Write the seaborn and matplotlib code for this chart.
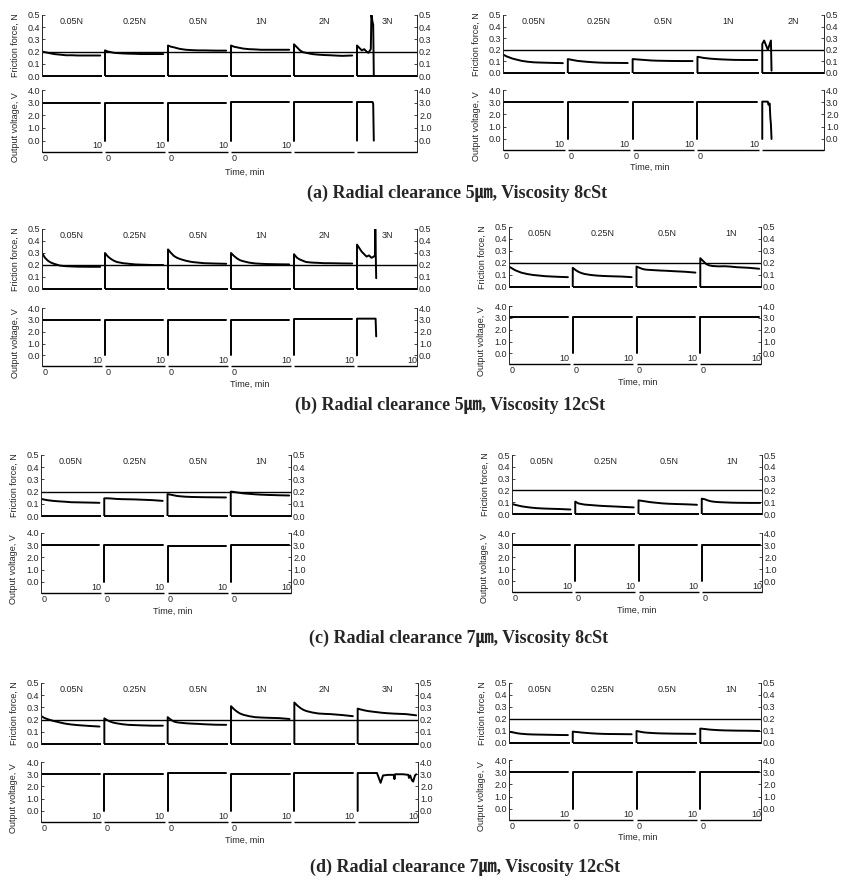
import numpy as np
import pandas as pd
import matplotlib
matplotlib.use("Agg")
import matplotlib.pyplot as plt
import seaborn as sns

# ---------------- data ----------------
T = [0, 0.5, 1, 1.5, 2, 3, 4, 5, 6, 8, 9.7]          # sampling times, min
V_T = [0, 9.7]
LOADS = ["0.05N", "0.25N", "0.5N", "1N", "2N", "3N"]

# (a) Radial clearance 5um, viscosity 8cSt -- left test
A_L_FRICTION = [
    [0.20, 0.195, 0.19, 0.185, 0.18, 0.175, 0.17, 0.17, 0.168, 0.168, 0.168],
    [0.21, 0.20, 0.195, 0.19, 0.188, 0.185, 0.183, 0.182, 0.18, 0.18, 0.18],
    [0.25, 0.24, 0.235, 0.228, 0.222, 0.215, 0.212, 0.21, 0.21, 0.208, 0.208],
    [0.25, 0.24, 0.235, 0.23, 0.225, 0.22, 0.218, 0.215, 0.215, 0.215, 0.215],
    [0.26, 0.235, 0.21, 0.195, 0.19, 0.18, 0.175, 0.172, 0.17, 0.165, 0.168],
]
A_L_VOLT = [3.0, 3.0, 3.0, 3.02, 3.06]
A_L_3N_T = [0, 0.4, 0.8, 1.2, 1.6, 1.9, 2.3, 2.4, 2.6, 2.7, 2.8]
A_L_3N_F = [0.25, 0.23, 0.21, 0.22, 0.20, 0.19, 0.22, 0.50, 0.44, 0.42, 0.0]
A_L_3N_VT = [0, 2.6, 2.7, 2.8]
A_L_3N_V = [3.05, 3.05, 2.9, 0.0]

# (a) right test
A_R_FRICTION = [
    [0.16, 0.145, 0.135, 0.125, 0.118, 0.105, 0.097, 0.092, 0.09, 0.087, 0.085],
    [0.12, 0.115, 0.11, 0.105, 0.102, 0.097, 0.093, 0.09, 0.088, 0.087, 0.086],
    [0.12, 0.118, 0.116, 0.114, 0.112, 0.108, 0.106, 0.105, 0.104, 0.103, 0.103],
    [0.14, 0.135, 0.13, 0.127, 0.124, 0.12, 0.117, 0.115, 0.113, 0.112, 0.112],
]
A_R_VOLT = [3.0, 3.02, 3.02, 3.02]
A_R_2N_T = [0, 0.3, 0.9, 1.4, 1.5]
A_R_2N_F = [0.25, 0.28, 0.20, 0.28, 0.02]
A_R_2N_VT = [0, 0.9, 1.0, 1.2, 1.3, 1.4, 1.5]
A_R_2N_V = [3.05, 3.05, 2.8, 2.9, 1.8, 1.2, 0.0]

# (b) Radial clearance 5um, viscosity 12cSt -- left test
B_L_FRICTION = [
    [0.30, 0.26, 0.235, 0.22, 0.21, 0.195, 0.19, 0.188, 0.186, 0.185, 0.185],
    [0.30, 0.27, 0.25, 0.235, 0.225, 0.215, 0.21, 0.205, 0.203, 0.20, 0.20],
    [0.33, 0.30, 0.275, 0.26, 0.25, 0.235, 0.225, 0.22, 0.215, 0.212, 0.21],
    [0.30, 0.275, 0.255, 0.24, 0.232, 0.22, 0.213, 0.21, 0.208, 0.206, 0.205],
    [0.29, 0.26, 0.245, 0.235, 0.225, 0.22, 0.218, 0.215, 0.215, 0.213, 0.212],
]
B_L_VOLT = [3.0, 3.0, 3.0, 3.0, 3.1]
B_L_3N_T = [0, 0.4, 0.8, 1.2, 1.6, 2.0, 2.4, 2.8, 3.0, 3.05, 3.2]
B_L_3N_F = [0.37, 0.34, 0.31, 0.29, 0.27, 0.28, 0.26, 0.27, 0.28, 0.50, 0.09]
B_L_3N_VT = [0, 3.1, 3.2]
B_L_3N_V = [3.1, 3.1, 1.6]

# (b) right test
B_R_FRICTION = [
    [0.17, 0.155, 0.14, 0.13, 0.12, 0.108, 0.10, 0.095, 0.09, 0.085, 0.082],
    [0.16, 0.14, 0.125, 0.115, 0.108, 0.10, 0.095, 0.092, 0.09, 0.087, 0.082],
    [0.17, 0.16, 0.15, 0.145, 0.143, 0.14, 0.137, 0.135, 0.132, 0.127, 0.12],
    [0.24, 0.215, 0.19, 0.18, 0.175, 0.172, 0.173, 0.17, 0.165, 0.16, 0.152],
]
B_R_VOLT = [3.05, 3.05, 3.05, 3.05]

# (c) Radial clearance 7um, viscosity 8cSt -- left test
C_L_FRICTION = [
    [0.14, 0.135, 0.13, 0.127, 0.124, 0.12, 0.117, 0.113, 0.112, 0.11, 0.108],
    [0.145, 0.145, 0.144, 0.142, 0.14, 0.138, 0.137, 0.136, 0.134, 0.13, 0.124],
    [0.18, 0.175, 0.17, 0.165, 0.162, 0.158, 0.156, 0.155, 0.154, 0.153, 0.152],
    [0.20, 0.197, 0.193, 0.19, 0.186, 0.182, 0.178, 0.175, 0.173, 0.17, 0.168],
]
C_L_VOLT = [3.0, 3.0, 2.95, 3.0]

# (c) right test
C_R_FRICTION = [
    [0.085, 0.078, 0.072, 0.066, 0.062, 0.055, 0.05, 0.047, 0.045, 0.042, 0.038],
    [0.105, 0.09, 0.085, 0.08, 0.078, 0.074, 0.07, 0.067, 0.065, 0.06, 0.056],
    [0.115, 0.112, 0.108, 0.104, 0.10, 0.095, 0.09, 0.087, 0.085, 0.082, 0.078],
    [0.13, 0.125, 0.115, 0.108, 0.104, 0.10, 0.098, 0.096, 0.095, 0.094, 0.094],
]
C_R_VOLT = [3.0, 3.0, 3.0, 3.0]

# (d) Radial clearance 7um, viscosity 12cSt -- left test
D_L_FRICTION = [
    [0.23, 0.215, 0.205, 0.197, 0.19, 0.178, 0.167, 0.16, 0.155, 0.148, 0.143],
    [0.21, 0.195, 0.183, 0.175, 0.17, 0.162, 0.157, 0.155, 0.153, 0.15, 0.15],
    [0.22, 0.20, 0.185, 0.178, 0.175, 0.17, 0.167, 0.165, 0.162, 0.158, 0.157],
    [0.31, 0.285, 0.265, 0.25, 0.24, 0.228, 0.22, 0.217, 0.215, 0.212, 0.205],
    [0.34, 0.315, 0.295, 0.28, 0.27, 0.258, 0.25, 0.247, 0.245, 0.237, 0.228],
    [0.29, 0.283, 0.277, 0.272, 0.268, 0.262, 0.256, 0.252, 0.249, 0.245, 0.235],
]
D_L_VOLT = [3.0, 3.05, 3.1, 3.05, 3.12]
D_L_3N_VT = [0, 3.2, 3.5, 3.8, 4.2, 5.0, 6.0, 6.1, 6.2, 7.5, 8.4, 8.5, 8.7, 9.0, 9.2, 9.5, 9.7]
D_L_3N_V = [3.1, 3.1, 2.7, 2.3, 2.9, 2.95, 2.95, 2.6, 3.0, 3.0, 2.95, 2.7, 2.9, 2.5, 2.4, 2.9, 3.0]

# (d) right test
D_R_FRICTION = [
    [0.095, 0.09, 0.085, 0.08, 0.077, 0.073, 0.071, 0.07, 0.069, 0.067, 0.066],
    [0.095, 0.092, 0.09, 0.087, 0.085, 0.081, 0.078, 0.076, 0.075, 0.074, 0.073],
    [0.10, 0.095, 0.09, 0.087, 0.085, 0.082, 0.08, 0.079, 0.078, 0.077, 0.076],
    [0.12, 0.118, 0.115, 0.112, 0.11, 0.107, 0.105, 0.104, 0.103, 0.102, 0.10],
]
D_R_VOLT = [3.0, 3.0, 3.0, 3.0]

CAPTIONS = [
    "(a) Radial clearance 5\u339b, Viscosity 8cSt",
    "(b) Radial clearance 5\u339b, Viscosity 12cSt",
    "(c) Radial clearance 7\u339b, Viscosity 8cSt",
    "(d) Radial clearance 7\u339b, Viscosity 12cSt",
]
REF_FRICTION = 0.2


def normal_segments(frics, volts):
    return [(T, f, V_T, [v, v]) for f, v in zip(frics, volts)]


PANELS = [
    dict(segs=normal_segments(A_L_FRICTION, A_L_VOLT) + [(A_L_3N_T, A_L_3N_F, A_L_3N_VT, A_L_3N_V)],
         box=(42, 417), fr=(15, 76), vo=(90, 152), n10=4, time=(245, 172)),
    dict(segs=normal_segments(A_R_FRICTION, A_R_VOLT) + [(A_R_2N_T, A_R_2N_F, A_R_2N_VT, A_R_2N_V)],
         box=(503, 824), fr=(15, 73), vo=(90, 150), n10=4, time=(650, 167)),
    dict(segs=normal_segments(B_L_FRICTION, B_L_VOLT) + [(B_L_3N_T, B_L_3N_F, B_L_3N_VT, B_L_3N_V)],
         box=(42, 417), fr=(229, 289), vo=(308, 366), n10=6, time=(250, 384)),
    dict(segs=normal_segments(B_R_FRICTION, B_R_VOLT),
         box=(509, 761), fr=(227, 287), vo=(306, 364), n10=4, time=(638, 382)),
    dict(segs=normal_segments(C_L_FRICTION, C_L_VOLT),
         box=(41, 291), fr=(455, 516), vo=(533, 593), n10=4, time=(173, 611)),
    dict(segs=normal_segments(C_R_FRICTION, C_R_VOLT),
         box=(512, 762), fr=(455, 514), vo=(533, 592), n10=4, time=(637, 610)),
    dict(segs=normal_segments(D_L_FRICTION[:5], D_L_VOLT) + [(T, D_L_FRICTION[5], D_L_3N_VT, D_L_3N_V)],
         box=(41, 418), fr=(683, 744), vo=(762, 822), n10=6, time=(245, 840)),
    dict(segs=normal_segments(D_R_FRICTION, D_R_VOLT),
         box=(509, 761), fr=(683, 743), vo=(760, 820), n10=4, time=(638, 837)),
]
CAPTION_POS = [(457, 193), (450, 405), (459, 638), (465, 867)]

# ---------------- drawing ----------------
sns.set_style("ticks")
plt.rcParams["font.family"] = ["Liberation Sans", "DejaVu Sans"]
plt.rcParams["axes.linewidth"] = 0.7

W, H = 844, 882
fig = plt.figure(figsize=(W / 100, H / 100), dpi=100)
PERIOD = 10.5
V_MIN = -0.9
FS = 6.5


def rect(x0, x1, y0, y1):
    return [x0 / W, 1 - y1 / H, (x1 - x0) / W, (y1 - y0) / H]


def style_axis(ax, yticks, ylabels):
    for s in ("top", "bottom"):
        ax.spines[s].set_visible(False)
    ax.spines["left"].set_linewidth(0.7)
    ax.spines["right"].set_linewidth(0.7)
    ax.set_yticks(yticks)
    ax.set_yticklabels(ylabels)
    ax.tick_params(axis="y", which="both", left=True, right=True, labelleft=True,
                   labelright=True, labelsize=FS, length=2, width=0.6, pad=1.5,
                   direction="in")
    ax.set_xlabel("")
    ax.set_ylabel("")
    ax.patch.set_alpha(0)


for p in PANELS:
    x0, x1 = p["box"]
    n = len(p["segs"])
    xmax = (n - 1) * PERIOD + 10
    starts = [k * PERIOD for k in range(n)]

    frows, vrows = [], []
    for k, (ft, fv, vt, vv) in enumerate(p["segs"]):
        for t, v in zip([0] + list(ft), [0.0] + list(fv)):
            frows.append(dict(t=starts[k] + t, f=v, seg=k))
        for t, v in zip([0] + list(vt), [0.0] + list(vv)):
            vrows.append(dict(t=starts[k] + t, v=v, seg=k))
    fdf = pd.DataFrame(frows)
    vdf = pd.DataFrame(vrows)

    # friction axes
    axf = fig.add_axes(rect(x0, x1, *p["fr"]))
    axf.axhline(REF_FRICTION, color="black", lw=1.0, zorder=1)
    sns.lineplot(data=fdf, x="t", y="f", units="seg", estimator=None, sort=False,
                 color="black", lw=1.4, ax=axf, legend=False)
    axf.hlines([0] * n, starts, [s + 10 for s in starts], color="black", lw=1.4,
               clip_on=False)
    axf.set_xlim(0, xmax)
    axf.set_ylim(0, 0.5)
    axf.set_xticks([])
    style_axis(axf, [0, 0.1, 0.2, 0.3, 0.4, 0.5],
               ["0.0", "0.1", "0.2", "0.3", "0.4", "0.5"])
    for k in range(n):
        axf.text(starts[k] + 5, 0.445, LOADS[k], ha="center", va="center", fontsize=FS)

    # voltage axes
    axv = fig.add_axes(rect(x0, x1, *p["vo"]))
    sns.lineplot(data=vdf, x="t", y="v", units="seg", estimator=None, sort=False,
                 color="black", lw=1.4, ax=axv, legend=False)
    axv.hlines([V_MIN] * n, starts, [s + 10 for s in starts], color="black", lw=1.0,
               clip_on=False)
    axv.set_xlim(0, xmax)
    axv.set_ylim(V_MIN, 4.0)
    style_axis(axv, [0, 1, 2, 3, 4], ["0.0", "1.0", "2.0", "3.0", "4.0"])
    axv.set_xticks([s + 0.5 for s in starts[:4]])
    axv.set_xticklabels(["0"] * 4)
    axv.tick_params(axis="x", length=0, pad=1.5, labelsize=FS)
    for k in range(p["n10"]):
        axv.text(starts[k] + 10, V_MIN + 0.12, "10", ha="right", va="bottom", fontsize=FS)

    # labels
    fy = (p["fr"][0] + p["fr"][1]) / 2
    vy = (p["vo"][0] + p["vo"][1]) / 2 + 6
    fig.text((x0 - 27) / W, 1 - fy / H, "Friction force, N", rotation=90,
             ha="center", va="center", fontsize=FS)
    fig.text((x0 - 27) / W, 1 - vy / H, "Output voltage, V", rotation=90,
             ha="center", va="center", fontsize=FS)
    tx, ty = p["time"]
    fig.text(tx / W, 1 - ty / H, "Time, min", ha="center", va="center", fontsize=FS)

for cap, (cx, cy) in zip(CAPTIONS, CAPTION_POS):
    fig.text(cx / W, 1 - cy / H, cap, ha="center", va="center", fontsize=13,
             fontweight="bold", family=["Liberation Serif", "Noto Sans CJK JP"])

fig.savefig("out.png", dpi=100)
